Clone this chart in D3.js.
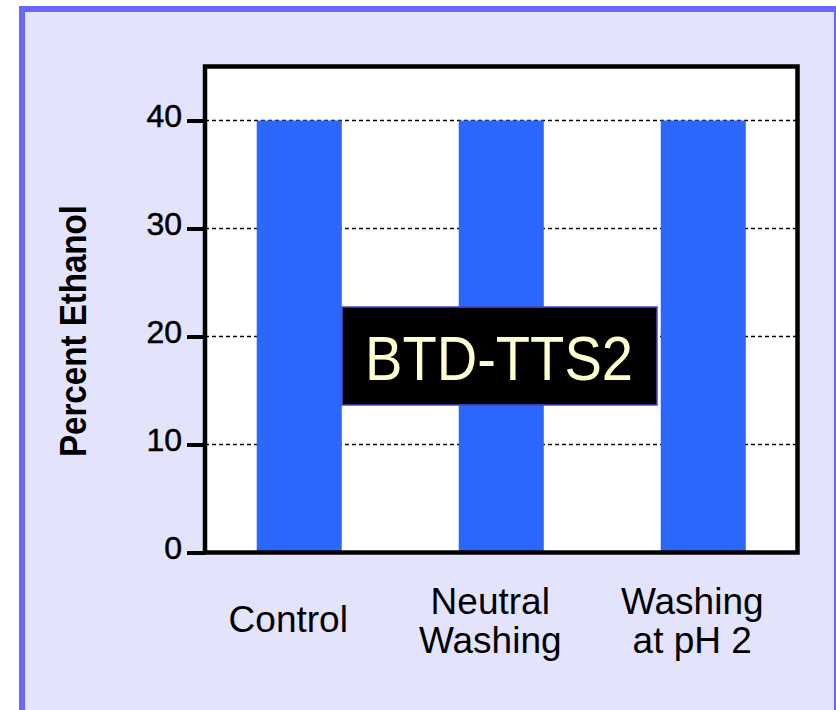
<!DOCTYPE html>
<html>
<head>
<meta charset="utf-8">
<script src="https://cdn.jsdelivr.net/npm/d3@7"></script>
<style>
  html, body { margin: 0; padding: 0; background: #fff; }
  svg text { font-family: "Liberation Sans", Arial, sans-serif; }
</style>
</head>
<body>
<div id="chart"></div>
<script>
const categories = ['Control', 'Neutral Washing', 'Washing at pH 2'];
const categoryLines = [['Control'], ['Neutral', 'Washing'], ['Washing', 'at pH 2']];
const ethanol = [40, 40, 40];
const yTicks = [0, 10, 20, 30, 40];
const legendText = 'BTD-TTS2';

const width = 836, height = 710;
const margin = {top: 66.5, right: 38.5, bottom: 157.5, left: 205};
const borderColor = '#6868fa';

let svg = d3.select('#chart').append('svg')
    .attr('width', width)
    .attr('height', height);

// panel background + borders
svg.append('rect')
    .attr('x', 25).attr('y', 12)
    .attr('width', width - 25).attr('height', height - 12)
    .attr('fill', '#e3e3fc');
svg.append('rect')
    .attr('x', 19).attr('y', 6)
    .attr('width', width - 19).attr('height', 6)
    .attr('fill', borderColor);
svg.append('rect')
    .attr('x', 19).attr('y', 6)
    .attr('width', 6).attr('height', height - 6)
    .attr('fill', borderColor);
svg.append('rect')
    .attr('x', 834).attr('y', 6)
    .attr('width', 2).attr('height', height - 6)
    .attr('fill', borderColor);

const x = d3.scaleBand()
    .domain(categories)
    .range([margin.left, width - margin.right])
    .paddingInner(0.579)
    .paddingOuter(0.256);

const y = d3.scaleLinear()
    .domain([0, 45])
    .range([height - margin.bottom, margin.top]);

// plot area
svg.append('rect')
    .attr('x', margin.left).attr('y', margin.top)
    .attr('width', width - margin.right - margin.left)
    .attr('height', height - margin.bottom - margin.top)
    .attr('fill', '#fff');

// dashed grid
svg.append('g')
    .selectAll('line')
    .data(yTicks.filter(d => d > 0))
    .join('line')
    .attr('x1', margin.left).attr('x2', width - margin.right)
    .attr('y1', d => y(d)).attr('y2', d => y(d))
    .attr('stroke', '#000')
    .attr('stroke-width', 1.3)
    .attr('stroke-dasharray', '4,3');

// bars
svg.append('g')
    .selectAll('rect')
    .data(ethanol)
    .join('rect')
    .attr('x', (d, i) => x(categories[i]))
    .attr('y', d => y(d))
    .attr('width', x.bandwidth())
    .attr('height', d => y(0) - y(d))
    .attr('fill', '#2b67fd');

// frame
svg.append('rect')
    .attr('x', margin.left).attr('y', margin.top)
    .attr('width', width - margin.right - margin.left)
    .attr('height', height - margin.bottom - margin.top)
    .attr('fill', 'none')
    .attr('stroke', '#000')
    .attr('stroke-width', 4.5);

// y axis
let yAxis = svg.append('g')
    .attr('transform', 'translate(' + margin.left + ',0)')
    .call(d3.axisLeft(y).tickValues(yTicks).tickSize(18).tickPadding(5));
yAxis.select('.domain').remove();
yAxis.selectAll('.tick line').attr('stroke', '#000').attr('stroke-width', 4);
yAxis.selectAll('.tick text')
    .attr('fill', '#000')
    .attr('stroke', '#000')
    .attr('stroke-width', 0.5)
    .attr('font-size', 32)
    .attr('dy', 6)
    .style('font-family', '"Liberation Sans", Arial, sans-serif');

svg.append('text')
    .attr('transform', 'translate(86,331) rotate(-90)')
    .attr('text-anchor', 'middle')
    .attr('font-size', 36)
    .attr('font-weight', 'bold')
    .attr('textLength', 252)
    .attr('lengthAdjust', 'spacingAndGlyphs')
    .text('Percent Ethanol');

// category labels
let catLabels = svg.append('g')
    .selectAll('text')
    .data(categoryLines)
    .join('text')
    .attr('text-anchor', 'middle')
    .attr('font-size', 37)
    .attr('x', (d, i) => x(categories[i]) + x.bandwidth() / 2 - 11)
    .attr('y', d => d.length === 1 ? 632 : 614);
catLabels.selectAll('tspan')
    .data(d => d)
    .join('tspan')
    .attr('x', function () { return this.parentNode.getAttribute('x'); })
    .attr('dy', (d, i) => i === 0 ? 0 : 39)
    .text(d => d);

// legend box
svg.append('rect')
    .attr('x', 342).attr('y', 307)
    .attr('width', 315).attr('height', 98)
    .attr('fill', '#000')
    .attr('stroke', '#4848d0')
    .attr('stroke-width', 1.5);
svg.append('text')
    .attr('x', 499).attr('y', 380)
    .attr('text-anchor', 'middle')
    .attr('font-size', 63)
    .attr('textLength', 268)
    .attr('lengthAdjust', 'spacingAndGlyphs')
    .attr('fill', '#ffffcc')
    .text(legendText);
</script>
</body>
</html>
